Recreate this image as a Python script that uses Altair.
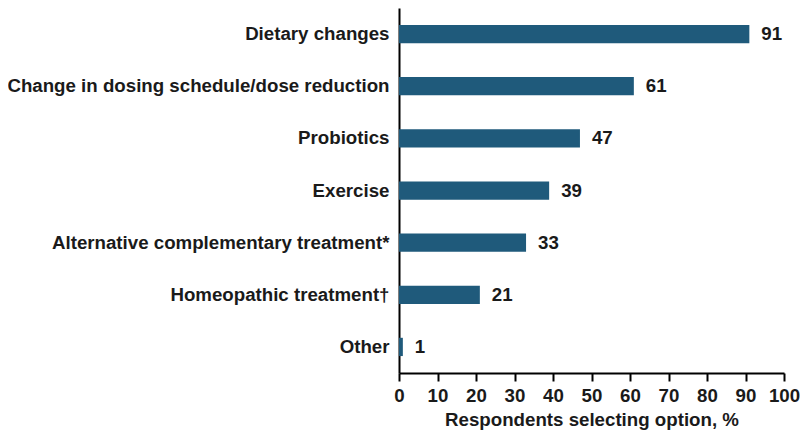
import altair as alt
import pandas as pd

categories = [
    "Dietary changes",
    "Change in dosing schedule/dose reduction",
    "Probiotics",
    "Exercise",
    "Alternative complementary treatment*",
    "Homeopathic treatment\u2020",
    "Other",
]
values = [91, 61, 47, 39, 33, 21, 1]
tick_values = [0, 10, 20, 30, 40, 50, 60, 70, 80, 90, 100]

df = pd.DataFrame({"option": categories, "pct": values})

FONT = "Arial"
FS = 18.7
COLOR = "#1F5A7B"
TXT = "#1a1a1a"

y = alt.Y(
    "option:N",
    sort=categories,
    title=None,
    scale=alt.Scale(paddingInner=0.65, paddingOuter=0.325),
    axis=alt.Axis(
        ticks=False, labelFontSize=FS, labelFontWeight="bold", labelFont=FONT,
        labelColor=TXT, labelPadding=10, domainColor="black", domainWidth=2,
        labelLimit=600,
    ),
)
x = alt.X(
    "pct:Q",
    title="Respondents selecting option, %",
    scale=alt.Scale(domain=[0, 100], nice=False),
    axis=alt.Axis(
        values=tick_values, grid=False, tickSize=8, tickWidth=2,
        tickColor="black", domainColor="black", domainWidth=2,
        labelFontSize=FS, labelFontWeight="bold", labelFont=FONT, labelColor=TXT,
        labelPadding=5, labelFlush=False, labelOverlap=False,
        titleFontSize=FS, titleFontWeight="bold", titleFont=FONT,
        titleColor=TXT, titlePadding=6,
    ),
)

base = alt.Chart(df).encode(x=x, y=y)
bars = base.mark_bar(color=COLOR)
text = base.mark_text(
    align="left", baseline="middle", dx=12, fontSize=FS, fontWeight="bold",
    font=FONT, color=TXT,
).encode(text="pct:Q")

chart = (bars + text).properties(
    width=385, height=365,
    autosize=alt.AutoSizeParams(type="none"),
    padding={"left": 391, "top": 0, "right": 16, "bottom": 58},
).configure_view(stroke=None)

chart.save("out.html", embed_options={"renderer": "svg", "actions": False})
